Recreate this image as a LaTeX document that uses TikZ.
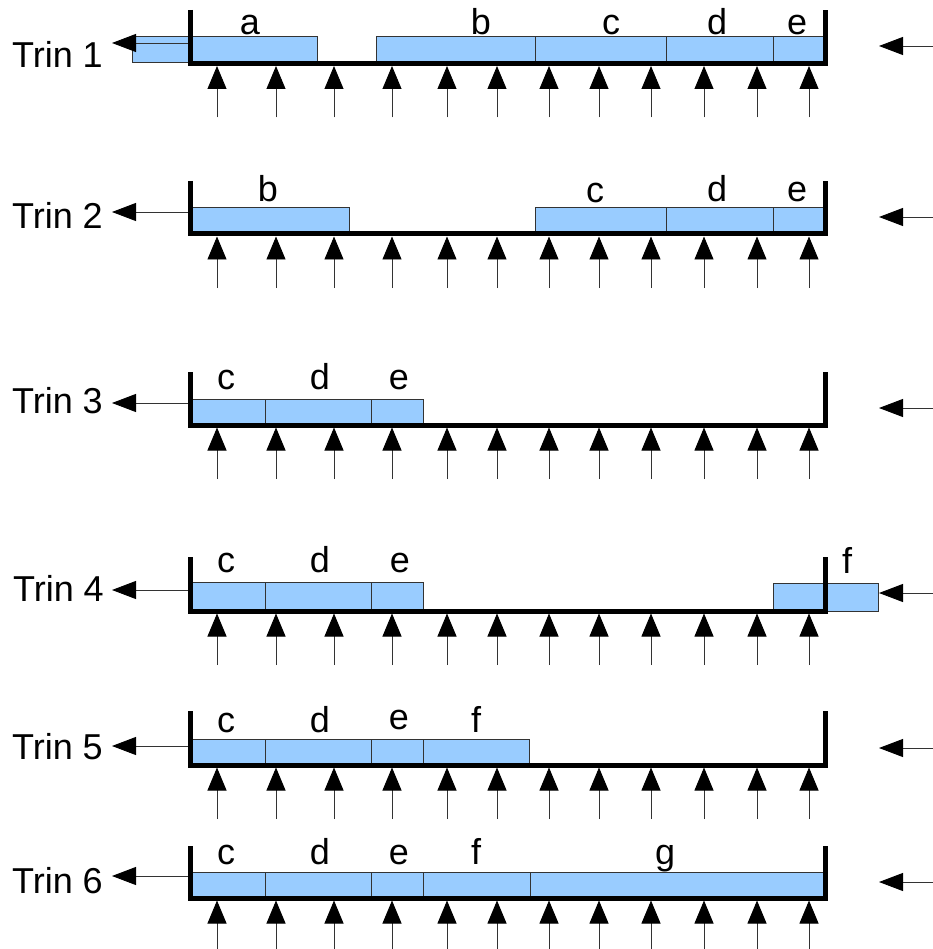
\documentclass[tikz,border=0pt]{standalone}
\usepackage{fontspec}
\setmainfont{Liberation Sans}
\usetikzlibrary{arrows.meta}
\definecolor{boxblue}{HTML}{99CCFF}
\definecolor{edgegray}{HTML}{333333}
\newcommand\trayrow[5]{% #1 wall top, #2 bottom line y, #3 left arrow y, #4 right arrow y, #5 row id
  \draw[wall] (190,#1) -- (190,#2) -- (825.5,#2) -- (825.5,#1);
  \foreach \xx in {217,276,334,392,447,497,549,599,651,704,757,809}
    \draw[uparr] (\xx,#2+54) -- (\xx,#2+2.5);
  \coordinate (lw#5) at (188,#3);
  \coordinate (lt#5) at (112,#3);
  \draw[sidearr] (lw#5) -- (lt#5);
  \coordinate (rs#5) at (940,#4);
  \coordinate (rt#5) at (879,#4);
  \draw[sidearr] (rs#5) -- (rt#5);
}
\begin{document}
\begin{tikzpicture}[x=1pt,y=-1pt,
  box/.style={draw=edgegray, fill=boxblue, line width=0.8pt},
  wall/.style={line width=5pt, line join=miter, line cap=butt},
  uparr/.style={draw=edgegray, line width=0.9pt, -{Triangle[length=23pt,width=19pt,color=black]}},
  sidearr/.style={draw=edgegray, line width=0.9pt, -{Triangle[length=24pt,width=18pt,color=black]}},
  lbl/.style={font=\fontsize{36}{42}\selectfont, anchor=base, inner sep=0pt},
  trin/.style={font=\fontsize{36}{42}\selectfont, anchor=base east, inner sep=0pt}]
\useasboundingbox (0,0) rectangle (932,949);

% ---------- Row 1
\draw[box] (132,36) rectangle (190,62);
\draw[box] (190,36) rectangle (317,63);
\draw[box] (376,36) rectangle (535,63);
\draw[box] (535,36) rectangle (666,63);
\draw[box] (666,36) rectangle (773,63);
\draw[box] (773,36) rectangle (823,63);
\trayrow{10}{63.5}{43}{46}{1}
\node[trin] (t1) at (103,68) {Trin 1};
\node[lbl] (a1) at (250,35) {a};
\node[lbl] (b1) at (481,35) {b};
\node[lbl] (c1) at (611,35) {c};
\node[lbl] (d1) at (717,35) {d};
\node[lbl] (e1) at (797,35) {e};

% ---------- Row 2
\draw[box] (190,207) rectangle (349,234);
\draw[box] (535,207) rectangle (666,234);
\draw[box] (666,207) rectangle (773,234);
\draw[box] (773,207) rectangle (823,234);
\trayrow{181}{234}{212}{217}{2}
\node[trin] (t2) at (103,229) {Trin 2};
\node[lbl] (b2) at (268,202) {b};
\node[lbl] (c2) at (595,203) {c};
\node[lbl] (d2) at (717,202) {d};
\node[lbl] (e2) at (797,202) {e};

% ---------- Row 3
\draw[box] (190,399) rectangle (265,425);
\draw[box] (265,399) rectangle (371,425);
\draw[box] (371,399) rectangle (423,425);
\trayrow{372}{425}{403}{408}{3}
\node[trin] (t3) at (103,413) {Trin 3};
\node[lbl] (c3) at (226,389) {c};
\node[lbl] (d3) at (320,389) {d};
\node[lbl] (e3) at (399,389) {e};

% ---------- Row 4
\draw[box] (190,582) rectangle (265,611);
\draw[box] (265,582) rectangle (371,611);
\draw[box] (371,582) rectangle (423,611);
\draw[box] (773,583) rectangle (878,611);
\trayrow{557}{611}{590}{593}{4}
\node[trin] (t4) at (104,601) {Trin 4};
\node[lbl] (c4) at (226,572) {c};
\node[lbl] (d4) at (320,572) {d};
\node[lbl] (e4) at (400,572) {e};
\node[lbl] (f4) at (847,573) {f};

% ---------- Row 5
\draw[box] (190,739) rectangle (265,765);
\draw[box] (265,739) rectangle (371,765);
\draw[box] (371,739) rectangle (423,765);
\draw[box] (423,739) rectangle (529,765);
\trayrow{711}{765}{746}{748}{5}
\node[trin] (t5) at (103,759) {Trin 5};
\node[lbl] (c5) at (226,732) {c};
\node[lbl] (d5) at (320,732) {d};
\node[lbl] (e5) at (399,729) {e};
\node[lbl] (f5) at (476,732) {f};

% ---------- Row 6
\draw[box] (190,872) rectangle (265,898);
\draw[box] (265,872) rectangle (371,898);
\draw[box] (371,872) rectangle (423,898);
\draw[box] (423,872) rectangle (530,898);
\draw[box] (530,872) rectangle (823,898);
\trayrow{846}{898}{876}{882}{6}
\node[trin] (t6) at (103,893) {Trin 6};
\node[lbl] (c6) at (226,864) {c};
\node[lbl] (d6) at (320,864) {d};
\node[lbl] (e6) at (399,864) {e};
\node[lbl] (f6) at (476,864) {f};
\node[lbl] (g6) at (665,864) {g};
\end{tikzpicture}
\end{document}
